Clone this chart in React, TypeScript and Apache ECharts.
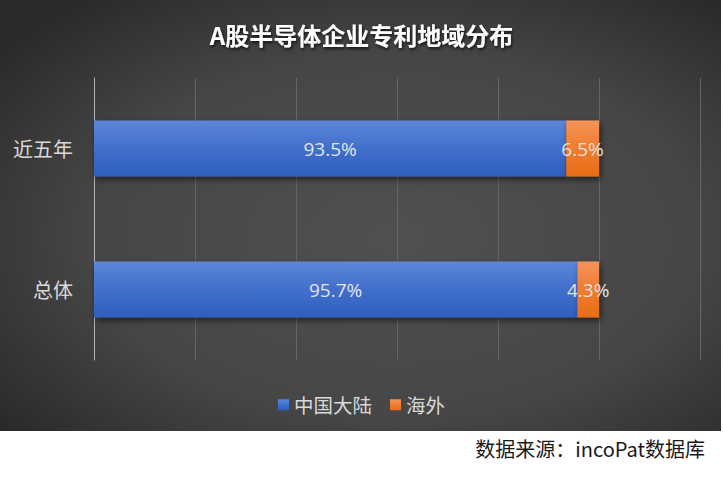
import React, { useEffect, useRef } from "react";
import * as echarts from "echarts";

const categories = ["近五年", "总体"];
const mainlandValues = [93.5, 95.7];
const overseasValues = [6.5, 4.3];
const seriesNames = ["中国大陆", "海外"];
const xTicks = [0, 20, 40, 60, 80, 100, 120];

const CJK = '"Microsoft YaHei", "Noto Sans CJK SC", sans-serif';
const LAT = '"Segoe UI", "Open Sans", "Noto Sans", sans-serif';

export default function App() {
  const ref = useRef<HTMLDivElement>(null);
  useEffect(() => {
    if (!ref.current) return;
    const chart = echarts.init(ref.current, undefined, { renderer: "svg" });
    const blue = new echarts.graphic.LinearGradient(0, 0, 0, 1, [
      { offset: 0, color: "#5d86d8" },
      { offset: 0.5, color: "#416fcc" },
      { offset: 1, color: "#2f5fbd" },
    ]);
    const orange = new echarts.graphic.LinearGradient(0, 0, 0, 1, [
      { offset: 0, color: "#f5935a" },
      { offset: 0.5, color: "#ef7c30" },
      { offset: 1, color: "#e76d16" },
    ]);
    chart.setOption({
      animation: false,
      backgroundColor: "#ffffff",
      graphic: [
        {
          type: "rect",
          z: -10,
          silent: true,
          shape: { x: 0, y: 0, width: 721, height: 431 },
          style: {
            fill: new echarts.graphic.RadialGradient(0.55, 0.55, 0.7, [
              { offset: 0, color: "#505050" },
              { offset: 0.6, color: "#464646" },
              { offset: 1, color: "#2a2a2a" },
            ]),
          },
        },
        {
          type: "text",
          left: "center",
          top: 22,
          style: {
            text: "A股半导体企业专利地域分布",
            fill: "#ffffff",
            font: `bold 24px ${CJK}`,
            textShadowColor: "rgba(0,0,0,0.7)",
            textShadowBlur: 3,
            textShadowOffsetX: 1,
            textShadowOffsetY: 2,
          },
        },
        {
          type: "text",
          right: 18,
          top: 438,
          style: {
            text: "数据来源：incoPat数据库",
            fill: "#1a1a1a",
            font: `20px ${CJK}`,
          },
        },
      ],
      grid: { left: 94, right: 23, top: 78, bottom: 117 },
      legend: {
        data: seriesNames,
        top: 390,
        left: "center",
        icon: "rect",
        itemWidth: 11,
        itemHeight: 11,
        itemGap: 18,
        textStyle: { color: "#d9d9d9", fontSize: 19.5, fontFamily: CJK },
      },
      xAxis: {
        type: "value",
        min: xTicks[0],
        max: xTicks[xTicks.length - 1],
        interval: 20,
        axisLabel: { show: false },
        axisLine: { show: false },
        axisTick: { show: false },
        splitLine: { show: true, lineStyle: { color: "#656565", width: 1 } },
      },
      yAxis: {
        type: "category",
        data: categories,
        inverse: true,
        axisLine: { show: true, lineStyle: { color: "#b5b5b5", width: 1 } },
        axisTick: { show: false },
        axisLabel: { color: "#d9d9d9", fontSize: 20, fontFamily: CJK, margin: 21 },
      },
      series: [
        {
          name: seriesNames[0],
          type: "bar",
          stack: "total",
          data: mainlandValues,
          barWidth: 56,
          itemStyle: {
            color: blue,
            shadowColor: "rgba(0,0,0,0.55)",
            shadowBlur: 6,
            shadowOffsetX: 2,
            shadowOffsetY: 3,
          },
          label: {
            show: true,
            position: "inside",
            color: "#e3e3e3",
            fontSize: 19,
            fontFamily: LAT,
            formatter: (p: any) => p.value.toFixed(1) + "%",
          },
        },
        {
          name: seriesNames[1],
          type: "bar",
          stack: "total",
          data: overseasValues,
          barWidth: 56,
          itemStyle: {
            color: orange,
            shadowColor: "rgba(0,0,0,0.55)",
            shadowBlur: 6,
            shadowOffsetX: 2,
            shadowOffsetY: 3,
          },
          label: {
            show: true,
            position: "inside",
            color: "#e3e3e3",
            fontSize: 19,
            fontFamily: LAT,
            formatter: (p: any) => p.value.toFixed(1) + "%",
          },
        },
      ],
    });
    return () => chart.dispose();
  }, []);
  return (
    <div
      ref={ref}
      style={{ position: "fixed", left: 0, top: 0, width: 723, height: 477 }}
    />
  );
}
